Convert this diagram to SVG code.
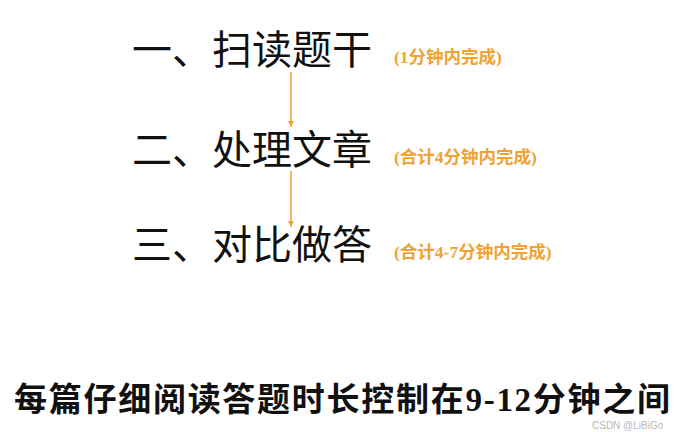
<svg xmlns="http://www.w3.org/2000/svg" width="683" height="432" viewBox="0 0 683 432">
<style>
.main{font-family:"Liberation Serif","Noto Sans CJK SC",serif;font-size:40px;fill:#111}
.note{font-family:"Liberation Serif","Noto Sans CJK SC",serif;font-size:17.5px;font-weight:bold;fill:#f0a232}
.foot{font-family:"Liberation Serif","Noto Sans CJK SC",serif;font-size:33px;font-weight:bold;fill:#111}
.wm{font-family:"Liberation Sans","DejaVu Sans",sans-serif;font-size:10px;fill:#b8b8b8}
.conn{stroke:#f0a232;stroke-width:1.5;fill:none}
</style>
<defs>
<marker id="ah" viewBox="0 0 10 10" refX="10" refY="5" markerWidth="6" markerHeight="6" markerUnits="userSpaceOnUse" orient="auto">
<path d="M0,0 L10,5 L0,10 z" fill="#f0a232"/>
</marker>
</defs>
<rect width="683" height="432" fill="#ffffff"/>
<g id="connectors">
<line class="conn" x1="291" y1="72" x2="291" y2="127" marker-end="url(#ah)"/>
<line class="conn" x1="291" y1="171" x2="291" y2="227" marker-end="url(#ah)"/>
</g>
<g id="step1">
<text class="main" x="132" y="64">一、扫读题干</text>
<text class="note" x="394" y="63">(1分钟内完成)</text>
</g>
<g id="step2">
<text class="main" x="132" y="164">二、处理文章</text>
<text class="note" x="394" y="163">(合计4分钟内完成)</text>
</g>
<g id="step3">
<text class="main" x="132" y="259">三、对比做答</text>
<text class="note" x="394" y="258">(合计4-7分钟内完成)</text>
</g>
<g id="footer">
<text class="foot" x="14" y="411" textLength="656" lengthAdjust="spacing">每篇仔细阅读答题时长控制在9-12分钟之间</text>
<text class="wm" x="592" y="429">CSDN @LiBiGo</text>
</g>
</svg>
